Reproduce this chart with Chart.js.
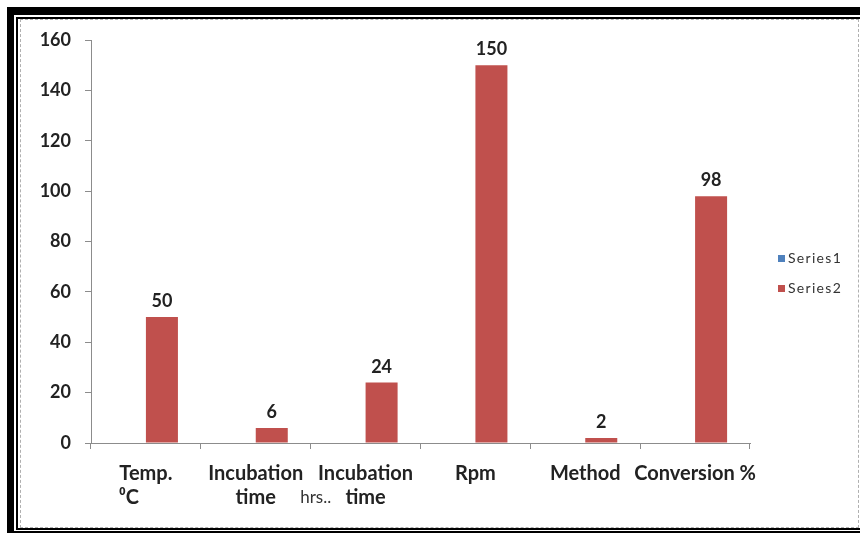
<!DOCTYPE html>
<html>
<head>
<meta charset="utf-8">
<script src="https://cdn.jsdelivr.net/npm/chart.js@4.4.0/dist/chart.umd.min.js"></script>
<style>
  body { margin: 0; background: #fff; }
  #wrap { position: relative; width: 860px; height: 534px; overflow: hidden; background: #fff; }
  .frame { position: absolute; box-sizing: border-box; }
  #f1 { left: 7px; top: 7px; width: 900px; height: 526px; border-top: 8px solid #000; border-left: 7px solid #000; border-bottom: 2px solid #000; }
  #f2 { left: 16px; top: 17px; width: 900px; height: 513px; border-top: 2px solid #000; border-left: 2px solid #000; border-bottom: 2px solid #000; }
  #f3 { left: 20px; top: 19px; width: 839px; height: 509px; border: 1px dashed #b0b0b0; }
  #cpmChart { position: absolute; left: 0; top: 0; }
</style>
</head>
<body>
<div id="wrap">
  <div class="frame" id="f1"></div>
  <div class="frame" id="f2"></div>
  <div class="frame" id="f3"></div>
  <canvas id="cpmChart" width="860" height="534"></canvas>
</div>
<script>
// values
var categories = [["Temp.", "\u2070C       "], ["Incubation", "time"], ["Incubation", "time"], "Rpm", "Method", "Conversion %"];
var series1 = [0, 0, 0, 0, 0, 0];
var series2 = [50, 6, 24, 150, 2, 98];
var seriesNames = ["Series1", "Series2"];
var seriesColors = ["#4F81BD", "#C0504D"];
var yMin = 0, yMax = 160, yStep = 20;
var extraNote = "hrs..";

var axisColor = '#8c8c8c';
var textColor = '#222';

// value labels on top of the bars
const barLabels = {
  id: 'barLabels',
  afterDatasetsDraw(chart) {
    const ctx = chart.ctx;
    const meta = chart.getDatasetMeta(1);
    ctx.save();
    ctx.font = 'bold 18px Lato';
    ctx.fillStyle = textColor;
    ctx.textAlign = 'center';
    ctx.textBaseline = 'alphabetic';
    meta.data.forEach((bar, i) => {
      ctx.fillText(series2[i], bar.x, bar.y - 10);
    });
    // the small "hrs.." between the two incubation labels
    const xs = chart.scales.x;
    const between = (xs.getPixelForValue(1) + xs.getPixelForValue(2)) / 2;
    ctx.font = '17px Lato';
    ctx.fillStyle = '#333';
    ctx.fillText(extraNote, between + 5, 503);
    ctx.restore();
  }
};

// legend drawn by hand to sit where excel put it
const sideLegend = {
  id: 'sideLegend',
  afterDraw(chart) {
    const ctx = chart.ctx;
    const area = chart.chartArea;
    const mid = (area.top + area.bottom) / 2 + 32;
    ctx.save();
    ctx.font = '14px Lato';
    ctx.letterSpacing = '1.3px';
    ctx.textAlign = 'left';
    ctx.textBaseline = 'middle';
    chart.data.datasets.forEach((ds, i) => {
      const y = mid + (i - 0.5) * 30;
      ctx.fillStyle = ds.backgroundColor;
      ctx.fillRect(area.right + 28, y - 3.5, 7, 7);
      ctx.fillStyle = '#333';
      ctx.fillText(ds.label, area.right + 38, y);
    });
    ctx.restore();
  }
};

var chart = new Chart(document.getElementById('cpmChart'), {
  type: 'bar',
  data: {
    labels: categories,
    datasets: [
      { label: seriesNames[0], data: series1, backgroundColor: seriesColors[0], borderWidth: 0 },
      { label: seriesNames[1], data: series2, backgroundColor: seriesColors[1], borderWidth: 0 }
    ]
  },
  options: {
    responsive: false,
    animation: false,
    categoryPercentage: 0.583,
    barPercentage: 1.0,
    layout: { padding: { left: 11, right: 110, top: 40, bottom: 21 } },
    plugins: {
      legend: { display: false },
      tooltip: { enabled: false }
    },
    scales: {
      y: {
        min: yMin,
        max: yMax,
        ticks: { stepSize: yStep, color: textColor, font: { family: 'Lato', weight: 'bold', size: 18 }, padding: 14 },
        grid: { drawOnChartArea: false, tickLength: 6, color: axisColor },
        border: { color: axisColor },
        afterFit: function (s) { s.width = 80; }
      },
      x: {
        ticks: { color: textColor, font: { family: 'Lato', weight: 'bold', size: 20, lineHeight: 1.2 }, padding: 13, maxRotation: 0, autoSkip: false },
        grid: { drawOnChartArea: false, tickLength: 6, color: axisColor, offset: true },
        border: { color: axisColor },
        afterFit: function (s) { s.height = 70; }
      }
    }
  },
  plugins: [barLabels, sideLegend]
});
</script>
</body>
</html>
